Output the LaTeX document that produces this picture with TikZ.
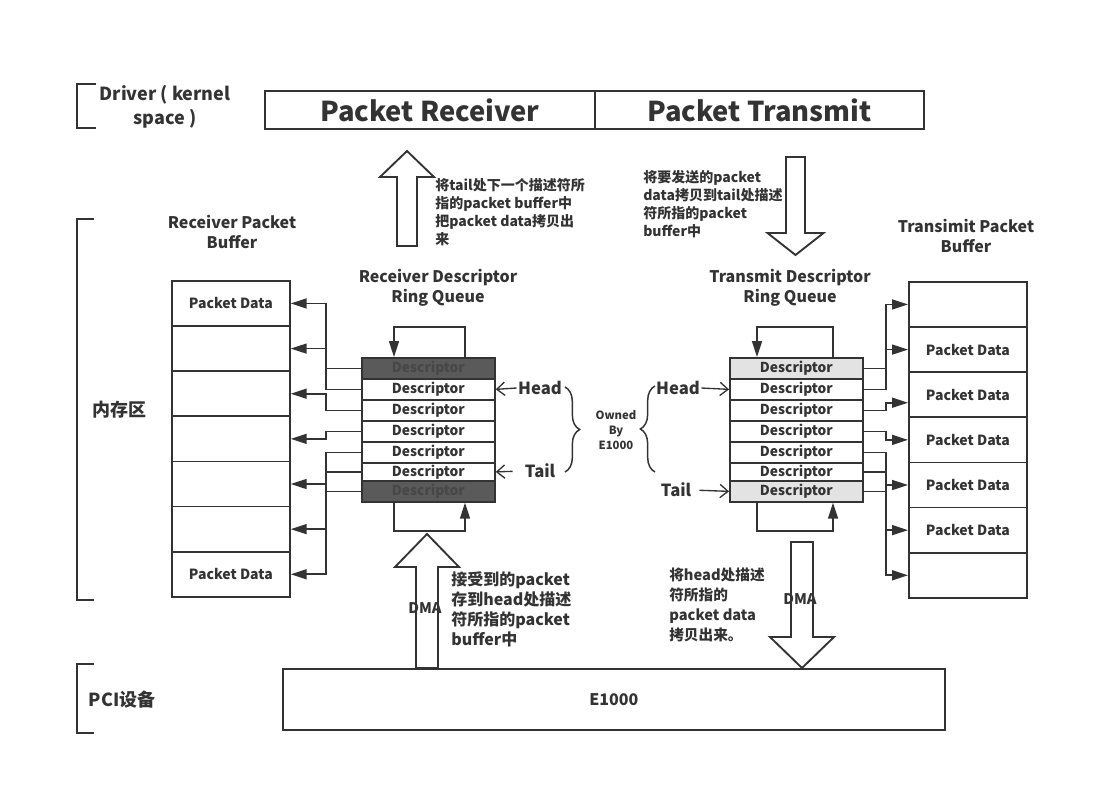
\documentclass[tikz,border=0pt]{standalone}
\usepackage{fontspec}
\setmainfont{Noto Sans CJK SC}
\usetikzlibrary{arrows.meta,positioning,calc,decorations.pathreplacing}
\definecolor{ink}{HTML}{333333}
\definecolor{darkrow}{HTML}{5A5A5A}
\definecolor{lightrow}{HTML}{E3E3E3}
\newcommand{\fsz}[2]{\fontsize{#1}{#2}\selectfont}
\tikzset{
    box/.style={draw=ink, line width=1.3pt, inner sep=0pt},
    desc/.style={box, anchor=north west, minimum width=99.75pt, text=ink, font=\bfseries\fsz{10.3}{10}},
    rxend/.style={fill=darkrow, text=black!72},
    txend/.style={fill=lightrow},
    plainrow/.style={fill=white},
    bufcell/.style={box, anchor=north west, minimum width=88.5pt, minimum height=33.86pt, text=ink, font=\bfseries\fsz{10.5}{10}},
    link/.style={draw=ink, line width=1.2pt},
    tip/.style={link, -{Triangle[length=12pt,width=7.5pt]}},
    ptr/.style={link, line width=1pt, -{Straight Barb[length=6pt,width=10pt]}},
    bracket/.style={draw=ink, line width=1.4pt},
    blockarrow/.style={draw=ink, line width=1.4pt, fill=white},
    title/.style={text=ink, font=\bfseries\fsz{12}{15}, align=center},
    side/.style={text=ink, font=\bfseries\fsz{13.5}{18}, align=center},
    note/.style={text=ink, anchor=north west, align=left, inner sep=0pt},
    ptrlabel/.style={text=ink, font=\bfseries\fsz{12.5}{14}, inner sep=1pt},
    brace/.style={draw=ink, line width=1.1pt, decorate, decoration={brace, amplitude=11pt}},
}
\begin{document}
\begin{tikzpicture}[x=0.75pt, y=-0.75pt]
    \newcommand{\hollowArrow}[6]{
        \draw[blockarrow] ({#1-#5},#2) -- ({#1-#5},#4) -- ({#1-#6},#4) -- (#1,#3)
            -- ({#1+#6},#4) -- ({#1+#5},#4) -- ({#1+#5},#2) -- cycle;
    }
    \useasboundingbox (0,0) rectangle (1109,796);

    % side brackets
    \draw[bracket] (96,84) -- (77,84) -- (77,128) -- (96,128);
    \draw[bracket] (94,219) -- (77,219) -- (77,600) -- (94,600);
    \draw[bracket] (94,664) -- (77,664) -- (77,733) -- (94,733);
    \node[side] (driver) at (165,107) {Driver ( kernel\\space )};
    \node[side] (memory) at (119,410) {内存区};
    \node[side] (pci) at (122,700) {PCI设备};

    % header
    \node[box, anchor=north west, minimum width=247.5pt, minimum height=28.5pt, text=ink,
        font=\bfseries\fsz{20.5}{21}] (hdrecv) at (264,90) {Packet Receiver};
    \node[box, anchor=north west, minimum width=246.75pt, minimum height=28.5pt, text=ink,
        font=\bfseries\fsz{20.5}{21}] (hdsend) at (594,90) {Packet Transmit};

    % driver side arrows
    \hollowArrow{407}{246}{151}{177}{10}{27}
    \hollowArrow{795.5}{157}{255}{233}{9.5}{28}
    \node[note, font=\bfseries\fsz{10.5}{13.5}] (rxnote) at (435,178)
        {将tail处下一个描述符所\\指的packet buffer中\\把packet data拷贝出\\来};
    \node[note, font=\bfseries\fsz{10.5}{13.5}] (txnote) at (643,170)
        {将要发送的packet\\data拷贝到tail处描述\\符所指的packet\\buffer中};

    % titles
    \node[title] (rbtitle) at (232,232) {Receiver Packet\\Buffer};
    \node[title] (tbtitle) at (966,236) {Transimit Packet\\Buffer};
    \node[title] (rdtitle) at (438,288) {Receiver Descriptor\\Ring Queue};
    \node[title] (tdtitle) at (790,288) {Transmit Descriptor\\Ring Queue};

    % packet buffers
    \foreach \i/\t in {1/Packet Data,2/{},3/{},4/{},5/{},6/{},7/Packet Data}
        \node[bufcell] (rb\i) at (171,{280+(\i-1)*45.14}) {\t};
    \foreach \i/\t in {1/{},2/Packet Data,3/Packet Data,4/Packet Data,5/Packet Data,6/Packet Data,7/{}}
        \node[bufcell] (tb\i) at (908,{281+(\i-1)*45.14}) {\t};

    % descriptor rings
    \foreach \i/\y/\h/\s in {1/357/21/rxend,2/378/21/plainrow,3/399/21/plainrow,4/420/21/plainrow,
            5/441/21/plainrow,6/462/18/plainrow,7/480/21/rxend}
        \node[desc, \s, minimum height=\h*0.75pt] (rd\i) at (361,\y) {Descriptor};
    \foreach \i/\y/\h/\s in {1/357/21/txend,2/378/21/plainrow,3/399/21/plainrow,4/420/21/plainrow,
            5/441/21/plainrow,6/462/18/plainrow,7/480/21/txend}
        \node[desc, \s, minimum height=\h*0.75pt] (td\i) at (729,\y) {Descriptor};

    % ring loops
    \draw[tip] ($(rd1.north west)+(104,0)$) -- ++(0,-30) -| ($(rd1.north west)+(33,0)$);
    \draw[tip] ($(rd7.south west)+(33,0)$) -- ++(0,28) -| ($(rd7.south west)+(104,0)$);
    \draw[tip] ($(td1.north west)+(104,0)$) -- ++(0,-30) -| ($(td1.north west)+(28,0)$);
    \draw[tip] ($(td7.south west)+(28,0)$) -- ++(0,28) -| ($(td7.south west)+(104,0)$);

    % receive descriptors -> buffers
    \coordinate (rbusA) at ($(rd1.west)+(-35,0)$);
    \draw[link] (rd1.west) -- (rbusA);
    \draw[link] (rd2.west) -| (rbusA);
    \draw[tip] (rbusA) |- (rb1.east);
    \draw[tip] (rb2.east -| rbusA) -- (rb2.east);
    \draw[tip] (rd3.west) -- (rd3.west -| rbusA) |- (rb3.east);
    \draw[tip] (rd4.west) -- (rd4.west -| rbusA) |- (rb4.east);
    \coordinate (rbusB) at (rd5.west -| rbusA);
    \draw[link] (rd5.west) -- (rbusB);
    \draw[link] (rd6.west) -- (rd6.west -| rbusA);
    \draw[link] (rd7.west) -- (rd7.west -| rbusA);
    \draw[tip] (rbusB) |- (rb7.east);
    \draw[tip] (rb5.east -| rbusA) -- (rb5.east);
    \draw[tip] (rb6.east -| rbusA) -- (rb6.east);

    % transmit descriptors -> buffers
    \coordinate (tbusA) at ($(td1.east)+(22,0)$);
    \draw[link] (td1.east) -- (tbusA);
    \draw[link] (td2.east) -| (tbusA);
    \draw[tip] (tbusA) |- (tb1.west);
    \draw[tip] (tb2.west -| tbusA) -- (tb2.west);
    \draw[tip] (td3.east) -- (td3.east -| tbusA) |- ([yshift=-6pt]tb3.west);
    \draw[tip] (td4.east) -- (td4.east -| tbusA) |- (tb4.west);
    \coordinate (tbusB) at (td5.east -| tbusA);
    \draw[link] (td5.east) -- (tbusB);
    \draw[link] (td6.east) -- (td6.east -| tbusA);
    \draw[link] (td7.east) -- (td7.east -| tbusA);
    \draw[tip] (tbusB) |- (tb7.west);
    \draw[tip] (tb5.west -| tbusA) -- (tb5.west);
    \draw[tip] (tb6.west -| tbusA) -- (tb6.west);

    % head / tail pointers
    \node[ptrlabel] (rhead) at (540,388) {Head};
    \node[ptrlabel] (rtail) at (540,471) {Tail};
    \node[ptrlabel] (thead) at (678,388) {Head};
    \node[ptrlabel] (ttail) at (676,490) {Tail};
    \draw[ptr] (rhead.west) -- (rd2.east);
    \draw[ptr, shorten <=8pt] (rtail.west) -- (rd6.east);
    \draw[ptr] (thead.east) -- (td2.west);
    \draw[ptr, shorten <=5pt] (ttail.east) -- (td7.west);

    % ownership
    \draw[brace] (565,387) -- (565,472);
    \draw[brace] (655,472) -- (655,386);
    \node[text=ink, font=\bfseries\fsz{8.5}{11}, align=center] (owned) at (616,430) {Owned\\By\\E1000};

    % device side
    \hollowArrow{427}{668}{534}{567}{11}{32}
    \hollowArrow{802}{542}{668}{637}{11}{32}
    \node[box, anchor=north west, minimum width=496.5pt, minimum height=45.75pt, text=ink,
        font=\bfseries\fsz{12}{14}] (e1000) at (282,668) {E1000};
    \node[text=ink, font=\bfseries\fsz{11}{12}] (rxdma) at (425,608) {DMA};
    \node[text=ink, font=\bfseries\fsz{11}{12}] (txdma) at (800,599) {DMA};
    \node[note, font=\bfseries\fsz{12}{15}] (rxdmanote) at (451,571)
        {接受到的packet\\存到head处描述\\符所指的packet\\buffer中};
    \node[note, font=\bfseries\fsz{11}{14.8}] (txdmanote) at (669,568)
        {将head处描述\\符所指的\\packet data\\拷贝出来。};
\end{tikzpicture}
\end{document}
